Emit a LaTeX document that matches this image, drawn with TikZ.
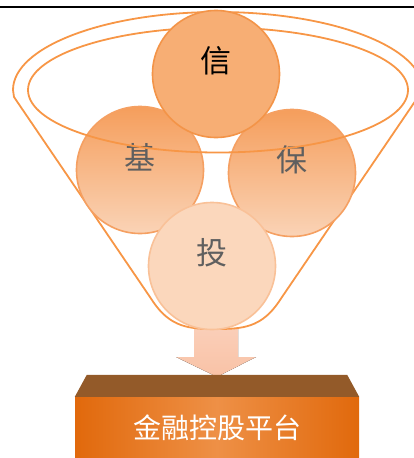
\documentclass[tikz,border=0pt]{standalone}
\usepackage{fontspec}
\newfontfamily\cjk{Noto Sans CJK SC}
\usetikzlibrary{positioning}
\definecolor{funnelorange}{HTML}{F79646}
\definecolor{xintop}{HTML}{F7AE74}
\definecolor{xinmid}{HTML}{F6923F}
\definecolor{xinedge}{HTML}{F39448}
\definecolor{jitop}{HTML}{F59E5C}
\definecolor{jimid}{HTML}{F8B886}
\definecolor{jibot}{HTML}{FAD3B6}
\definecolor{jiedge}{HTML}{F5A062}
\definecolor{toutop}{HTML}{FBD7BC}
\definecolor{toumid}{HTML}{F9BC89}
\definecolor{touedge}{HTML}{F9C198}
\definecolor{arrowpink}{HTML}{F9C2A6}
\definecolor{platbrown}{HTML}{935A29}
\definecolor{platedge}{HTML}{E1690C}
\definecolor{platmid}{HTML}{EE9046}
\definecolor{glyphgray}{HTML}{5F5F5F}
\newcommand{\bubble}[5][]{\node[bubble,#2] (#3) at #4 {};
  \node[glyph,#1] (#3-text) at ([yshift=13pt]#3.center) {#5};}

\begin{document}
\begin{tikzpicture}[x=1pt,y=-1pt,
  bubble/.style={circle,minimum size=127pt,inner sep=0pt,line width=1.6pt},
  xinball/.style={draw=xinedge,top color=xintop,middle color=xinmid,bottom color=xintop},
  sideball/.style={draw=jiedge,top color=jitop,middle color=jimid,bottom color=jibot},
  touball/.style={draw=touedge,top color=toutop,middle color=toumid,bottom color=toutop},
  glyph/.style={font=\cjk\fontsize{31}{33}\selectfont,text=glyphgray,inner sep=0pt},
  funnel/.style={draw=funnelorange,line width=1.8pt,line join=round},
  flow/.style={top color=arrowpink!80!white,bottom color=arrowpink},
  platform/.style={minimum width=284pt,minimum height=62pt,inner sep=0pt,
    left color=platedge,right color=platedge,middle color=platmid,
    text=white,font=\cjk\fontsize{28}{30}\selectfont}]
\useasboundingbox (0,0) rectangle (414,458);
\clip (0,0) rectangle (414,458);
\draw[line width=2pt] (0,7) -- (414,7);
% base platform and the arrow feeding it
\node[platform] (base) at (217,428) {金融控股平台};
\path (216,329) coordinate (funnelbottom);
\fill[flow] ([xshift=-22pt]funnelbottom) -- ([xshift=22pt]funnelbottom) -- ++(0,28) -- ++(18,0)
  -- ([yshift=20pt]base.north) -- ([shift={(-40,28)}]funnelbottom) -- ++(18,0) -- cycle;
\fill[platbrown] ([shift={(12,-22)}]base.north west) -- ([shift={(-12,-22)}]base.north east)
  -- (base.north east) -- (base.north west) -- cycle;
% funnel outline, back half of the rim
\draw[funnel] (13,90) arc[start angle=180,end angle=360,x radius=205,y radius=78]
  -- (418,97) -- (280,300) .. controls (262,328) and (242,329) .. (funnelbottom)
  .. controls (190,329) and (170,328) .. (152,300) -- (14,97) -- cycle;
\draw[funnel] (28,90) arc[start angle=180,end angle=360,x radius=190,y radius=62.5];
% the four business lines
\bubble{sideball}{ji}{(140,170)}{基}
\bubble{sideball}{bao}{(292,173)}{保}
\bubble{touball}{tou}{(212,266)}{投}
\bubble[text=black]{xinball}{xin}{(216,74)}{信}
% front half of the rim
\draw[funnel] (28,90) arc[start angle=180,end angle=0,x radius=190,y radius=62.5];
\end{tikzpicture}
\end{document}
